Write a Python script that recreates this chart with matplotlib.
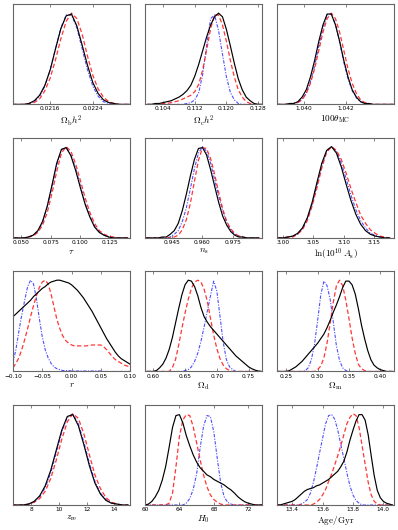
import matplotlib
matplotlib.use("Agg")
import matplotlib.pyplot as plt
from matplotlib.ticker import FixedLocator, FixedFormatter

plt.rcParams["mathtext.fontset"] = "cm"
plt.rcParams["font.family"] = ["DejaVu Sans"]

# --- read-off marginal posteriors (normalised to peak = 1) ----------------------------
# black solid / red dashed / blue dash-dot, one block per panel

OMBH2_X = [0.0209, 0.0210, 0.0211, 0.0212, 0.0213, 0.0214, 0.0215, 0.0216, 0.0217, 0.0218,
           0.0219, 0.0220, 0.0221, 0.0222, 0.0223, 0.0224, 0.0225, 0.0226, 0.0227, 0.0228,
           0.0229, 0.0230, 0.0231]
OMBH2_BLACK = [0, 0, 0, 0.01, 0.04, 0.10, 0.21, 0.38, 0.61, 0.83, 0.97, 0.99, 0.86, 0.65,
               0.43, 0.24, 0.12, 0.05, 0.02, 0.01, 0, 0, 0]
OMBH2_RED = [0, 0, 0, 0.01, 0.02, 0.06, 0.15, 0.29, 0.49, 0.72, 0.91, 1.00, 0.94, 0.77,
             0.53, 0.32, 0.17, 0.08, 0.03, 0.01, 0, 0, 0]
OMBH2_BLUE = [0, 0, 0, 0.01, 0.03, 0.09, 0.20, 0.38, 0.61, 0.84, 0.98, 0.98, 0.84, 0.61,
              0.38, 0.20, 0.09, 0.03, 0.01, 0, 0, 0, 0]

OMCH2_X = [0.100, 0.101, 0.102, 0.103, 0.104, 0.105, 0.106, 0.107, 0.108, 0.109,
           0.110, 0.111, 0.112, 0.113, 0.114, 0.115, 0.116, 0.117, 0.118, 0.119,
           0.120, 0.121, 0.122, 0.123, 0.124, 0.125, 0.126, 0.127, 0.128, 0.129]
OMCH2_BLACK = [0, 0, 0.01, 0.01, 0.02, 0.03, 0.04, 0.06, 0.08, 0.11, 0.15, 0.21, 0.31, 0.44,
               0.59, 0.74, 0.87, 0.96, 1.00, 0.96, 0.82, 0.64, 0.45, 0.28, 0.16, 0.08, 0.04,
               0.01, 0, 0]
OMCH2_RED = [0, 0, 0, 0, 0.01, 0.01, 0.02, 0.03, 0.04, 0.06, 0.08, 0.10, 0.14, 0.22, 0.38,
             0.60, 0.83, 0.98, 0.98, 0.87, 0.69, 0.48, 0.30, 0.16, 0.08, 0.03, 0.01, 0, 0, 0]
OMCH2_BLUE = [0, 0, 0, 0, 0, 0, 0, 0, 0, 0, 0.01, 0.02, 0.05, 0.13, 0.33, 0.65, 0.94, 0.98,
              0.81, 0.55, 0.30, 0.13, 0.05, 0.01, 0, 0, 0, 0, 0, 0]

THETA_X = [1.0387, 1.0389, 1.0391, 1.0393, 1.0395, 1.0397, 1.0399, 1.0401, 1.0403, 1.0405,
           1.0407, 1.0409, 1.0411, 1.0413, 1.0415, 1.0417, 1.0419, 1.0421, 1.0423, 1.0425,
           1.0427, 1.0429, 1.0431, 1.0433, 1.0435, 1.0437, 1.0439, 1.0441, 1.0443]
THETA_BLACK = [0, 0, 0, 0.01, 0.01, 0.03, 0.08, 0.16, 0.30, 0.48, 0.69, 0.87, 0.99, 0.99,
               0.87, 0.69, 0.48, 0.30, 0.16, 0.08, 0.03, 0.01, 0.01, 0, 0, 0, 0, 0, 0]
THETA_RED = [0, 0, 0, 0, 0.01, 0.02, 0.05, 0.12, 0.23, 0.39, 0.59, 0.79, 0.94, 1.00, 0.94,
             0.79, 0.59, 0.39, 0.23, 0.12, 0.05, 0.02, 0.01, 0, 0, 0, 0, 0, 0]
THETA_BLUE = [0, 0, 0, 0, 0.01, 0.02, 0.06, 0.12, 0.25, 0.42, 0.64, 0.84, 0.98, 0.99, 0.88,
              0.68, 0.46, 0.28, 0.15, 0.07, 0.03, 0.01, 0, 0, 0, 0, 0, 0, 0]

TAU_X = [0.044, 0.048, 0.052, 0.056, 0.060, 0.064, 0.068, 0.072, 0.076, 0.080, 0.084, 0.088,
         0.092, 0.096, 0.100, 0.104, 0.108, 0.112, 0.116, 0.120, 0.124, 0.128, 0.132, 0.136,
         0.140]
TAU_BLACK = [0, 0, 0, 0.01, 0.03, 0.08, 0.18, 0.35, 0.58, 0.82, 0.97, 0.99, 0.90, 0.74,
             0.55, 0.37, 0.23, 0.12, 0.06, 0.03, 0.01, 0, 0, 0, 0]
TAU_RED = [0, 0, 0, 0.01, 0.02, 0.06, 0.14, 0.28, 0.49, 0.73, 0.93, 1.00, 0.95, 0.81, 0.63,
           0.44, 0.28, 0.16, 0.08, 0.04, 0.02, 0.01, 0, 0, 0]
TAU_BLUE = [0, 0, 0, 0.01, 0.03, 0.07, 0.17, 0.34, 0.56, 0.80, 0.97, 0.99, 0.91, 0.76, 0.57,
            0.38, 0.24, 0.13, 0.07, 0.03, 0.01, 0, 0, 0, 0]

NS_X = [0.932, 0.934, 0.936, 0.938, 0.940, 0.942, 0.944, 0.946, 0.948, 0.950, 0.952, 0.954,
        0.956, 0.958, 0.960, 0.962, 0.964, 0.966, 0.968, 0.970, 0.972, 0.974, 0.976, 0.978,
        0.980, 0.982, 0.984, 0.986, 0.988]
NS_BLACK = [0, 0, 0, 0, 0.01, 0.01, 0.04, 0.08, 0.16, 0.30, 0.48, 0.68, 0.86, 0.98, 0.99,
            0.91, 0.75, 0.57, 0.39, 0.24, 0.14, 0.07, 0.03, 0.01, 0.01, 0, 0, 0, 0]
NS_RED = [0, 0, 0, 0, 0, 0, 0, 0.01, 0.03, 0.09, 0.20, 0.38, 0.62, 0.85, 0.99, 0.98, 0.87,
          0.70, 0.50, 0.32, 0.18, 0.10, 0.05, 0.02, 0.01, 0, 0, 0, 0]
NS_BLUE = [0, 0, 0, 0, 0, 0, 0.01, 0.04, 0.08, 0.18, 0.33, 0.54, 0.76, 0.93, 1.00, 0.95,
           0.82, 0.64, 0.46, 0.30, 0.17, 0.09, 0.04, 0.02, 0.01, 0, 0, 0, 0]

LNAS_X = [2.992, 3.000, 3.008, 3.016, 3.024, 3.032, 3.040, 3.048, 3.056, 3.064, 3.072, 3.080,
          3.088, 3.096, 3.104, 3.112, 3.120, 3.128, 3.136, 3.144, 3.152, 3.160, 3.168, 3.176]
LNAS_BLACK = [0, 0, 0.01, 0.02, 0.05, 0.11, 0.22, 0.39, 0.61, 0.82, 0.96, 1.00, 0.93, 0.78,
              0.59, 0.41, 0.26, 0.15, 0.08, 0.04, 0.02, 0.01, 0, 0]
LNAS_RED = [0, 0, 0.01, 0.01, 0.04, 0.09, 0.19, 0.35, 0.55, 0.77, 0.94, 1.00, 0.96, 0.86,
            0.71, 0.54, 0.39, 0.25, 0.16, 0.09, 0.05, 0.02, 0.01, 0]
LNAS_BLUE = [0, 0, 0.01, 0.02, 0.04, 0.10, 0.21, 0.37, 0.58, 0.79, 0.95, 1.00, 0.95, 0.82,
             0.65, 0.47, 0.31, 0.19, 0.11, 0.05, 0.03, 0.01, 0, 0]

R_X = [-0.100, -0.095, -0.090, -0.085, -0.080, -0.075, -0.070, -0.065, -0.060, -0.055,
       -0.050, -0.045, -0.040, -0.035, -0.030, -0.025, -0.020, -0.015, -0.010, -0.005,
       0.000, 0.005, 0.010, 0.015, 0.020, 0.025, 0.030, 0.035, 0.040, 0.045, 0.050, 0.055,
       0.060, 0.065, 0.070, 0.075, 0.080, 0.085, 0.090, 0.095, 0.100]
R_BLACK = [0.60, 0.63, 0.66, 0.69, 0.72, 0.75, 0.78, 0.82, 0.85, 0.88, 0.91, 0.93, 0.96,
           0.98, 0.99, 1.00, 1.00, 0.99, 0.98, 0.97, 0.95, 0.92, 0.89, 0.85, 0.81, 0.76,
           0.71, 0.66, 0.60, 0.54, 0.48, 0.42, 0.36, 0.31, 0.26, 0.21, 0.17, 0.14, 0.12,
           0.10, 0.08]
R_RED = [0.04, 0.09, 0.15, 0.24, 0.35, 0.47, 0.60, 0.72, 0.83, 0.92, 0.98, 1.00, 0.96, 0.85,
         0.71, 0.57, 0.47, 0.39, 0.34, 0.31, 0.29, 0.28, 0.28, 0.28, 0.28, 0.28, 0.285, 0.29,
         0.29, 0.29, 0.29, 0.27, 0.24, 0.20, 0.16, 0.13, 0.11, 0.09, 0.07, 0.06, 0.05]
R_BLUE = [0.10, 0.24, 0.44, 0.62, 0.78, 0.93, 1.00, 0.96, 0.80, 0.58, 0.38, 0.24, 0.15, 0.09,
          0.05, 0.03, 0.02, 0.01, 0.01, 0.01, 0.005, 0.005, 0.005, 0.005, 0.005, 0.005,
          0.005, 0.005, 0.005, 0.005, 0.005, 0, 0, 0, 0, 0, 0, 0, 0, 0, 0]

OMD_X = [0.590, 0.595, 0.600, 0.605, 0.610, 0.615, 0.620, 0.625, 0.630, 0.635, 0.640, 0.645,
         0.650, 0.655, 0.660, 0.665, 0.670, 0.675, 0.680, 0.685, 0.690, 0.695, 0.700, 0.705,
         0.710, 0.715, 0.720, 0.725, 0.730, 0.735, 0.740, 0.745, 0.750, 0.755, 0.760, 0.765,
         0.770]
OMD_BLACK = [0, 0, 0, 0.01, 0.04, 0.08, 0.145, 0.24, 0.37, 0.53, 0.69, 0.84, 0.95, 1.00,
             0.99, 0.93, 0.83, 0.70, 0.60, 0.54, 0.49, 0.45, 0.41, 0.37, 0.33, 0.29, 0.25,
             0.21, 0.17, 0.14, 0.11, 0.08, 0.05, 0.03, 0.015, 0.005, 0]
OMD_RED = [0, 0, 0, 0, 0, 0, 0, 0, 0.04, 0.13, 0.29, 0.47, 0.64, 0.79, 0.91, 0.98, 1.00,
           0.98, 0.90, 0.77, 0.58, 0.40, 0.25, 0.14, 0.07, 0.03, 0.01, 0, 0, 0, 0, 0, 0, 0,
           0, 0, 0]
OMD_BLUE = [0, 0, 0, 0, 0, 0, 0, 0, 0, 0, 0, 0, 0.01, 0.02, 0.05, 0.11, 0.20, 0.33, 0.49,
            0.66, 0.83, 0.99, 0.88, 0.60, 0.32, 0.13, 0.05, 0.02, 0, 0, 0, 0, 0, 0, 0, 0, 0]

OMM_X = [0.235, 0.240, 0.245, 0.250, 0.255, 0.260, 0.265, 0.270, 0.275, 0.280, 0.285, 0.290,
         0.295, 0.300, 0.305, 0.310, 0.315, 0.320, 0.325, 0.330, 0.335, 0.340, 0.345, 0.350,
         0.355, 0.360, 0.365, 0.370, 0.375, 0.380, 0.385, 0.390, 0.395, 0.400, 0.405, 0.410,
         0.415, 0.420]
OMM_BLACK = [0, 0, 0, 0, 0.01, 0.03, 0.05, 0.08, 0.11, 0.15, 0.19, 0.23, 0.27, 0.31, 0.36,
             0.41, 0.48, 0.56, 0.65, 0.73, 0.82, 0.92, 0.99, 0.99, 0.95, 0.85, 0.69, 0.51,
             0.36, 0.23, 0.13, 0.07, 0.04, 0.02, 0.01, 0, 0, 0]
OMM_RED = [0, 0, 0, 0, 0, 0, 0, 0, 0, 0, 0, 0, 0, 0.02, 0.06, 0.15, 0.31, 0.53, 0.76, 0.94,
           1.00, 0.94, 0.78, 0.58, 0.37, 0.20, 0.08, 0.03, 0.01, 0, 0, 0, 0, 0, 0, 0, 0, 0]
OMM_BLUE = [0, 0, 0, 0, 0, 0, 0, 0, 0, 0.01, 0.04, 0.13, 0.30, 0.56, 0.84, 0.99, 0.94, 0.79,
            0.54, 0.28, 0.12, 0.04, 0.01, 0, 0, 0, 0, 0, 0, 0, 0, 0, 0, 0, 0, 0, 0, 0]

ZRE_X = [6.6, 7.0, 7.4, 7.8, 8.2, 8.6, 9.0, 9.4, 9.8, 10.2, 10.6, 11.0, 11.4, 11.8, 12.2,
         12.6, 13.0, 13.4, 13.8, 14.2, 14.6, 15.0]
ZRE_BLACK = [0, 0, 0, 0.01, 0.04, 0.10, 0.21, 0.38, 0.60, 0.82, 0.97, 0.99, 0.87, 0.66, 0.43,
             0.24, 0.12, 0.05, 0.02, 0.01, 0, 0]
ZRE_RED = [0, 0, 0, 0.01, 0.03, 0.07, 0.15, 0.29, 0.49, 0.72, 0.91, 1.00, 0.95, 0.78, 0.55,
           0.33, 0.18, 0.08, 0.03, 0.01, 0, 0]
ZRE_BLUE = [0, 0, 0, 0.01, 0.03, 0.09, 0.19, 0.35, 0.57, 0.80, 0.96, 1.00, 0.89, 0.69, 0.46,
            0.26, 0.13, 0.06, 0.02, 0.01, 0, 0]

H0_X = [60.0, 60.4, 60.8, 61.2, 61.6, 62.0, 62.4, 62.8, 63.2, 63.6, 64.0, 64.4, 64.8, 65.2,
        65.6, 66.0, 66.4, 66.8, 67.2, 67.6, 68.0, 68.4, 68.8, 69.2, 69.6, 70.0, 70.4, 70.8,
        71.2, 71.6, 72.0, 72.4, 72.8, 73.2, 73.6]
H0_BLACK = [0, 0.01, 0.04, 0.09, 0.16, 0.27, 0.42, 0.63, 0.85, 0.98, 0.99, 0.90, 0.76, 0.65,
            0.55, 0.47, 0.41, 0.37, 0.33, 0.31, 0.28, 0.26, 0.24, 0.22, 0.19, 0.165, 0.13,
            0.09, 0.06, 0.035, 0.02, 0.01, 0, 0, 0]
H0_RED = [0, 0, 0, 0, 0, 0, 0, 0.02, 0.13, 0.42, 0.75, 0.93, 0.99, 0.98, 0.86, 0.68, 0.50,
          0.33, 0.20, 0.11, 0.06, 0.03, 0.01, 0, 0, 0, 0, 0, 0, 0, 0, 0, 0, 0, 0]
H0_BLUE = [0, 0, 0, 0, 0, 0, 0, 0, 0, 0, 0, 0, 0.02, 0.07, 0.17, 0.34, 0.62, 0.86, 0.98,
           0.97, 0.80, 0.51, 0.24, 0.09, 0.03, 0.01, 0, 0, 0, 0, 0, 0, 0, 0, 0]

AGE_X = [13.30, 13.32, 13.34, 13.36, 13.38, 13.40, 13.42, 13.44, 13.46, 13.48, 13.50, 13.52,
         13.54, 13.56, 13.58, 13.60, 13.62, 13.64, 13.66, 13.68, 13.70, 13.72, 13.74, 13.76,
         13.78, 13.80, 13.82, 13.84, 13.86, 13.88, 13.90, 13.92, 13.94, 13.96, 13.98, 14.00,
         14.02, 14.04, 14.06]
AGE_BLACK = [0, 0, 0.01, 0.02, 0.03, 0.04, 0.06, 0.09, 0.12, 0.15, 0.17, 0.18, 0.19, 0.21,
             0.22, 0.24, 0.26, 0.28, 0.31, 0.34, 0.37, 0.42, 0.48, 0.58, 0.71, 0.82, 0.92,
             0.99, 0.99, 0.93, 0.77, 0.54, 0.32, 0.16, 0.08, 0.04, 0.02, 0.01, 0]
AGE_RED = [0, 0, 0, 0, 0, 0, 0, 0, 0, 0, 0, 0, 0.01, 0.03, 0.06, 0.11, 0.17, 0.26, 0.34,
           0.44, 0.54, 0.65, 0.77, 0.89, 0.96, 1.00, 0.98, 0.85, 0.65, 0.45, 0.25, 0.11,
           0.04, 0.01, 0, 0, 0, 0, 0]
AGE_BLUE = [0, 0, 0, 0, 0, 0, 0, 0, 0.01, 0.03, 0.06, 0.13, 0.25, 0.40, 0.57, 0.73, 0.89,
            0.98, 0.99, 0.94, 0.82, 0.66, 0.51, 0.35, 0.21, 0.11, 0.05, 0.02, 0, 0, 0, 0, 0,
            0, 0, 0, 0, 0, 0]

LABELS = [r"$\Omega_{\rm b}h^2$", r"$\Omega_{\rm c}h^2$", r"$100\theta_{\rm MC}$",
          r"$\tau$", r"$n_{\rm s}$", r"${\rm ln}(10^{10}\,A_{\rm s})$",
          r"$r$", r"$\Omega_{\rm d}$", r"$\Omega_{\rm m}$",
          r"$z_{\rm re}$", r"$H_0$", r"${\rm Age}/{\rm Gyr}$"]

TICKS = [[0.0216, 0.0224], [0.104, 0.112, 0.120, 0.128], [1.040, 1.042],
         [0.050, 0.075, 0.100, 0.125], [0.945, 0.960, 0.975], [3.00, 3.05, 3.10, 3.15],
         [-0.10, -0.05, 0.00, 0.05, 0.10], [0.60, 0.65, 0.70, 0.75], [0.25, 0.30, 0.35, 0.40],
         [8, 10, 12, 14], [60, 64, 68, 72], [13.4, 13.6, 13.8, 14.0]]
TICK_LABELS = [["0.0216", "0.0224"], ["0.104", "0.112", "0.120", "0.128"],
               ["1.040", "1.042"], ["0.050", "0.075", "0.100", "0.125"],
               ["0.945", "0.960", "0.975"], ["3.00", "3.05", "3.10", "3.15"],
               ["\u22120.10", "\u22120.05", "0.00", "0.05", "0.10"],
               ["0.60", "0.65", "0.70", "0.75"], ["0.25", "0.30", "0.35", "0.40"],
               ["8", "10", "12", "14"], ["60", "64", "68", "72"],
               ["13.4", "13.6", "13.8", "14.0"]]

XLIMS = [(0.0209, 0.0231), (0.0994, 0.1290), (1.0387, 1.0443),
         (0.043, 0.142), (0.9315, 0.9895), (2.990, 3.183),
         (-0.10, 0.10), (0.587, 0.771), (0.235, 0.422),
         (6.67, 15.14), (60.0, 73.6), (13.30, 14.07)]

CURVES = [
    (OMBH2_X, OMBH2_BLACK, OMBH2_RED, OMBH2_BLUE),
    (OMCH2_X, OMCH2_BLACK, OMCH2_RED, OMCH2_BLUE),
    (THETA_X, THETA_BLACK, THETA_RED, THETA_BLUE),
    (TAU_X, TAU_BLACK, TAU_RED, TAU_BLUE),
    (NS_X, NS_BLACK, NS_RED, NS_BLUE),
    (LNAS_X, LNAS_BLACK, LNAS_RED, LNAS_BLUE),
    (R_X, R_BLACK, R_RED, R_BLUE),
    (OMD_X, OMD_BLACK, OMD_RED, OMD_BLUE),
    (OMM_X, OMM_BLACK, OMM_RED, OMM_BLUE),
    (ZRE_X, ZRE_BLACK, ZRE_RED, ZRE_BLUE),
    (H0_X, H0_BLACK, H0_RED, H0_BLUE),
    (AGE_X, AGE_BLACK, AGE_RED, AGE_BLUE),
]

fig, axes = plt.subplots(4, 3, figsize=(3.98, 5.30), dpi=100)
fig.subplots_adjust(left=13 / 398, right=394 / 398, top=1 - 4 / 530,
                    bottom=1 - 505 / 530, wspace=0.128, hspace=0.33)

for ax, (x, yk, yr, yb), lab, ticks, tl, xl in zip(axes.flat, CURVES, LABELS, TICKS,
                                                   TICK_LABELS, XLIMS):
    ax.plot(x, yb, color="#3030ff", lw=0.8, dashes=(3, 1.3, 1, 1.3), alpha=0.85)
    ax.plot(x, yr, color="#ff2020", lw=0.9, dashes=(3.5, 2), alpha=0.9)
    ax.plot(x, yk, color="k", lw=0.85)
    ax.set_xlim(*xl)
    ax.set_ylim(0, 1.1)
    ax.xaxis.set_major_locator(FixedLocator(ticks))
    ax.xaxis.set_major_formatter(FixedFormatter(tl))
    ax.tick_params(axis="x", direction="in", top=True, bottom=True, length=2.5,
                   width=0.5, color="#555555", labelsize=4.2, pad=1.5)
    ax.set_yticks([])
    for sp in ax.spines.values():
        sp.set_color("#666666")
        sp.set_linewidth(0.8)
    ax.set_xlabel(lab, fontsize=6.6, labelpad=1.2)

fig.savefig("out.png", dpi=100)
